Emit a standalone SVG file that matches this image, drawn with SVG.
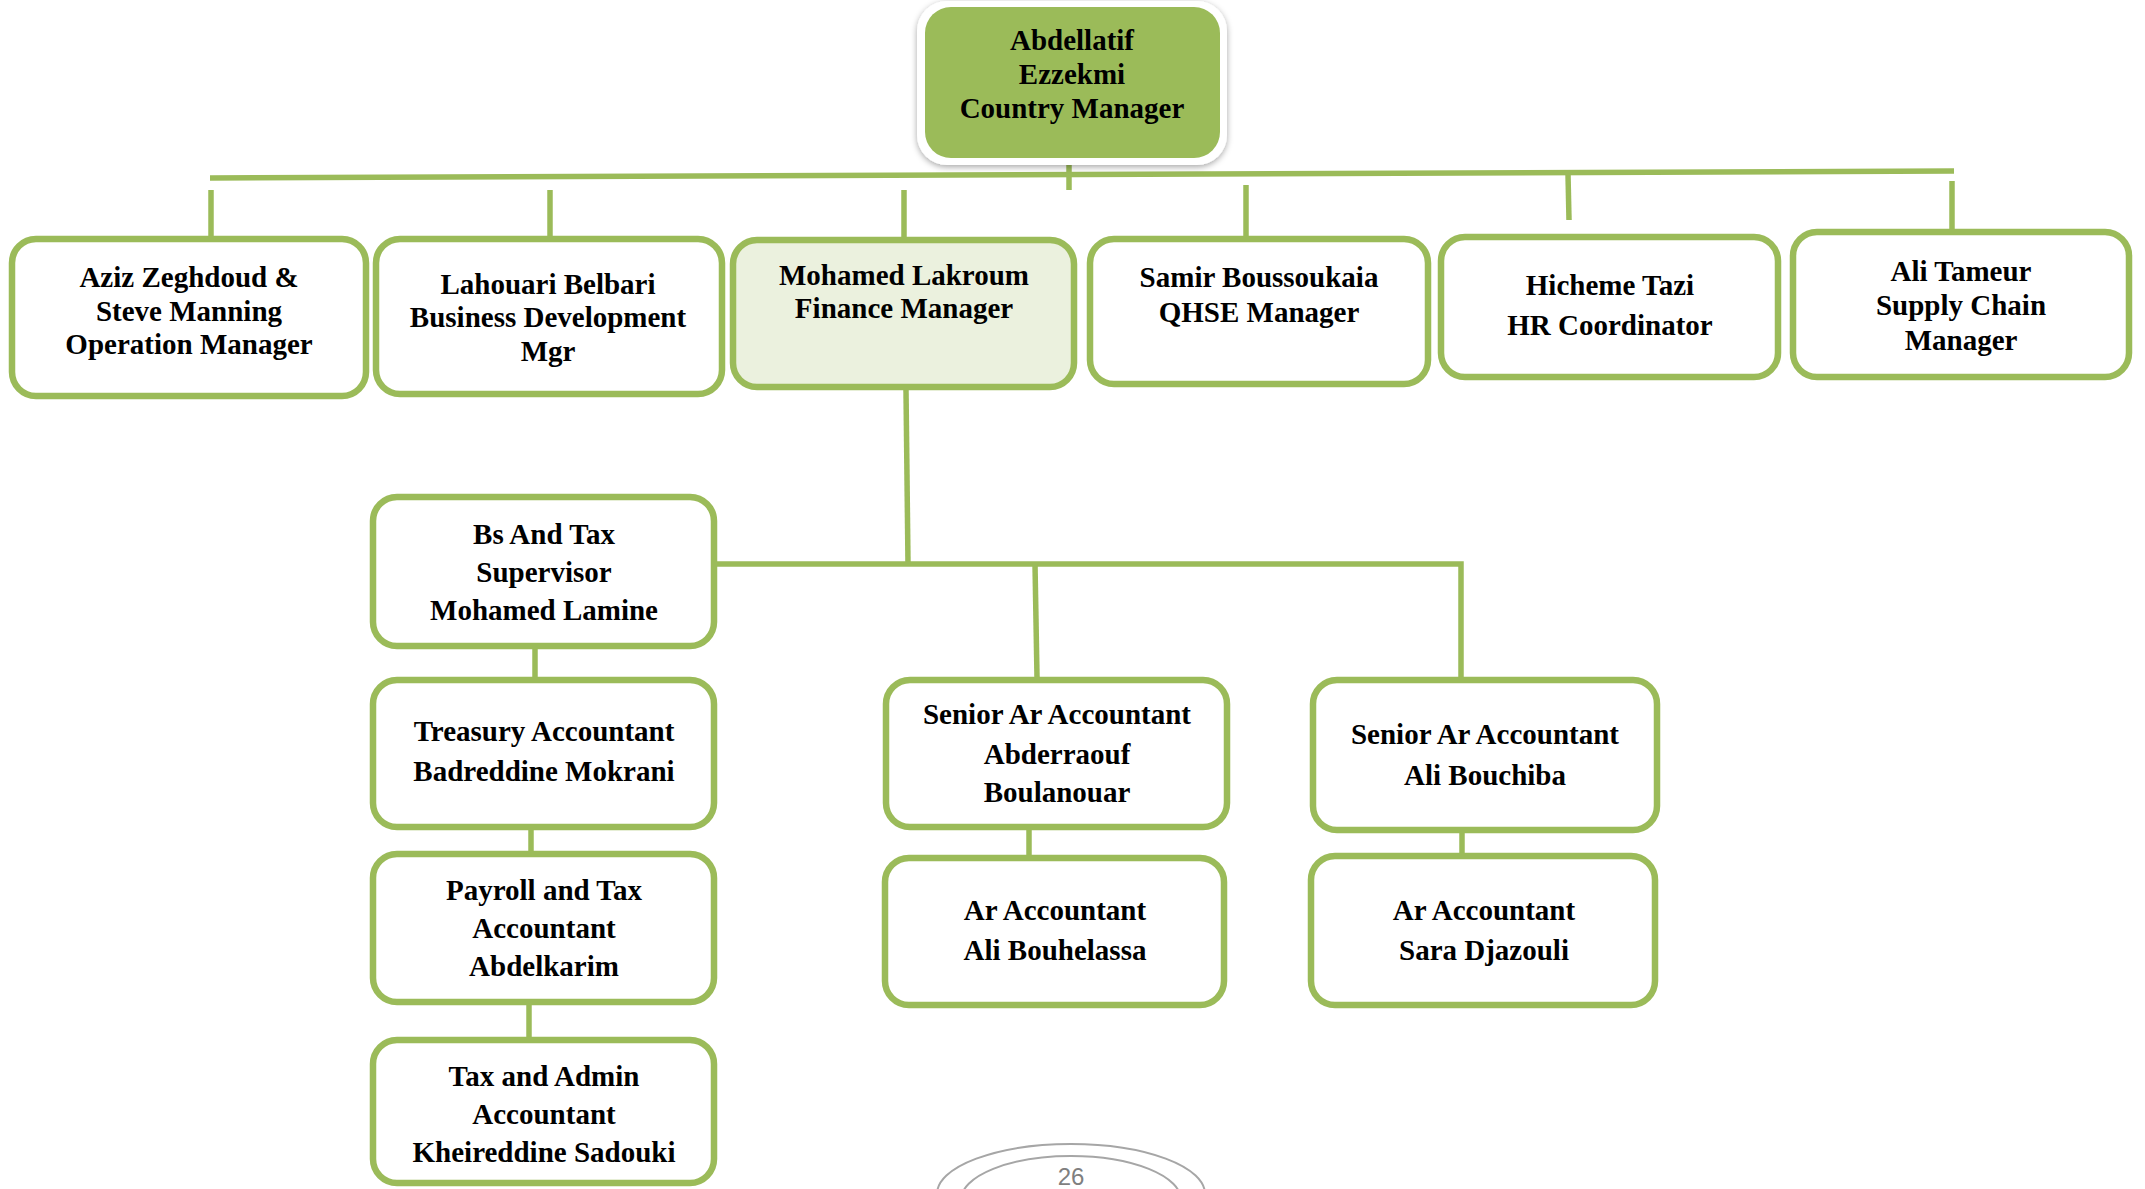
<svg xmlns="http://www.w3.org/2000/svg" width="2145" height="1189" viewBox="0 0 2145 1189">
<defs>
<filter id="sh" x="-10%" y="-10%" width="120%" height="130%">
<feDropShadow dx="0" dy="2" stdDeviation="3" flood-color="#000" flood-opacity="0.35"/>
</filter>
</defs>
<style>
.box{fill:#fff;stroke:#9BBB59;stroke-width:6.5}
.fin{fill:#EBF1DE}
.t{font-family:"Liberation Serif","Times New Roman",serif;font-weight:bold;font-size:29px;fill:#000;text-anchor:middle}
.c{stroke:#9BBB59;fill:none;stroke-width:5.5}
.pg{fill:none;stroke:#A6A6A6;stroke-width:2}
</style>
<rect width="2145" height="1189" fill="#fff"/>
<g id="connectors">
<line class="c" x1="1069" y1="157" x2="1069" y2="190"/>
<line class="c" x1="210" y1="178" x2="1954" y2="171" stroke-width="6"/>
<line class="c" x1="211" y1="190" x2="211" y2="237"/>
<line class="c" x1="550" y1="190" x2="550" y2="237"/>
<line class="c" x1="904" y1="190" x2="904" y2="237"/>
<line class="c" x1="1246" y1="185" x2="1246" y2="237"/>
<line class="c" x1="1568" y1="174" x2="1569" y2="220"/>
<line class="c" x1="1952" y1="181" x2="1952" y2="230"/>
<line class="c" x1="906" y1="390" x2="908" y2="564"/>
<polyline class="c" points="717,564 1461,564 1461,677"/>
<line class="c" x1="1035" y1="564" x2="1037" y2="677"/>
<line class="c" x1="535" y1="649" x2="535" y2="677"/>
<line class="c" x1="531" y1="830" x2="531" y2="851"/>
<line class="c" x1="529" y1="1005" x2="529" y2="1037"/>
<line class="c" x1="1029" y1="830" x2="1029" y2="855"/>
<line class="c" x1="1462" y1="833" x2="1462" y2="853"/>
</g>
<g id="n-country-manager">
<rect x="917" y="1" width="310" height="164" rx="30" fill="#fff" filter="url(#sh)"/>
<rect x="925" y="7" width="295" height="151" rx="26" fill="#9BBB59"/>
<text class="t" x="1072" y="50">Abdellatif</text>
<text class="t" x="1072" y="84">Ezzekmi</text>
<text class="t" x="1072" y="118">Country Manager</text>
</g>
<g id="n-operation">
<rect class="box" x="12" y="239" width="354" height="157" rx="24"/>
<text class="t" x="189" y="287">Aziz Zeghdoud &amp;</text>
<text class="t" x="189" y="321">Steve Manning</text>
<text class="t" x="189" y="354">Operation Manager</text>
</g>
<g id="n-business">
<rect class="box" x="376" y="239" width="346" height="155" rx="24"/>
<text class="t" x="548" y="294">Lahouari Belbari</text>
<text class="t" x="548" y="327">Business Development</text>
<text class="t" x="548" y="361">Mgr</text>
</g>
<g id="n-finance">
<rect class="box fin" x="733" y="240" width="341" height="147" rx="24"/>
<text class="t" x="904" y="285">Mohamed Lakroum</text>
<text class="t" x="904" y="318">Finance Manager</text>
</g>
<g id="n-qhse">
<rect class="box" x="1090" y="239" width="338" height="145" rx="24"/>
<text class="t" x="1259" y="287">Samir Boussoukaia</text>
<text class="t" x="1259" y="322">QHSE Manager</text>
</g>
<g id="n-hr">
<rect class="box" x="1441" y="237" width="337" height="140" rx="24"/>
<text class="t" x="1610" y="295">Hicheme Tazi</text>
<text class="t" x="1610" y="335">HR Coordinator</text>
</g>
<g id="n-supply">
<rect class="box" x="1793" y="232" width="336" height="145" rx="24"/>
<text class="t" x="1961" y="281">Ali Tameur</text>
<text class="t" x="1961" y="315">Supply Chain</text>
<text class="t" x="1961" y="350">Manager</text>
</g>
<g id="n-bs-tax">
<rect class="box" x="373" y="497" width="341" height="149" rx="24"/>
<text class="t" x="544" y="544">Bs And Tax</text>
<text class="t" x="544" y="582">Supervisor</text>
<text class="t" x="544" y="620">Mohamed Lamine</text>
</g>
<g id="n-treasury">
<rect class="box" x="373" y="680" width="341" height="147" rx="24"/>
<text class="t" x="544" y="741">Treasury Accountant</text>
<text class="t" x="544" y="781">Badreddine Mokrani</text>
</g>
<g id="n-payroll">
<rect class="box" x="373" y="854" width="341" height="148" rx="24"/>
<text class="t" x="544" y="900">Payroll and Tax</text>
<text class="t" x="544" y="938">Accountant</text>
<text class="t" x="544" y="976">Abdelkarim</text>
</g>
<g id="n-tax-admin">
<rect class="box" x="373" y="1040" width="341" height="143" rx="24"/>
<text class="t" x="544" y="1086">Tax and Admin</text>
<text class="t" x="544" y="1124">Accountant</text>
<text class="t" x="544" y="1162">Kheireddine Sadouki</text>
</g>
<g id="n-senior-ar-1">
<rect class="box" x="886" y="680" width="341" height="147" rx="24"/>
<text class="t" x="1057" y="724">Senior Ar Accountant</text>
<text class="t" x="1057" y="764">Abderraouf</text>
<text class="t" x="1057" y="802">Boulanouar</text>
</g>
<g id="n-ar-1">
<rect class="box" x="885" y="858" width="339" height="147" rx="24"/>
<text class="t" x="1055" y="920">Ar Accountant</text>
<text class="t" x="1055" y="960">Ali Bouhelassa</text>
</g>
<g id="n-senior-ar-2">
<rect class="box" x="1313" y="680" width="344" height="150" rx="24"/>
<text class="t" x="1485" y="744">Senior Ar Accountant</text>
<text class="t" x="1485" y="785">Ali Bouchiba</text>
</g>
<g id="n-ar-2">
<rect class="box" x="1311" y="856" width="344" height="149" rx="24"/>
<text class="t" x="1484" y="920">Ar Accountant</text>
<text class="t" x="1484" y="960">Sara Djazouli</text>
</g>
<g id="page-number">
<ellipse class="pg" cx="1071" cy="1194" rx="134" ry="50"/>
<ellipse class="pg" cx="1071" cy="1200" rx="110" ry="44"/>
<text x="1071" y="1185" font-family="Liberation Sans, Arial, sans-serif" font-size="24" fill="#7F7F7F" text-anchor="middle">26</text>
</g>
</svg>
